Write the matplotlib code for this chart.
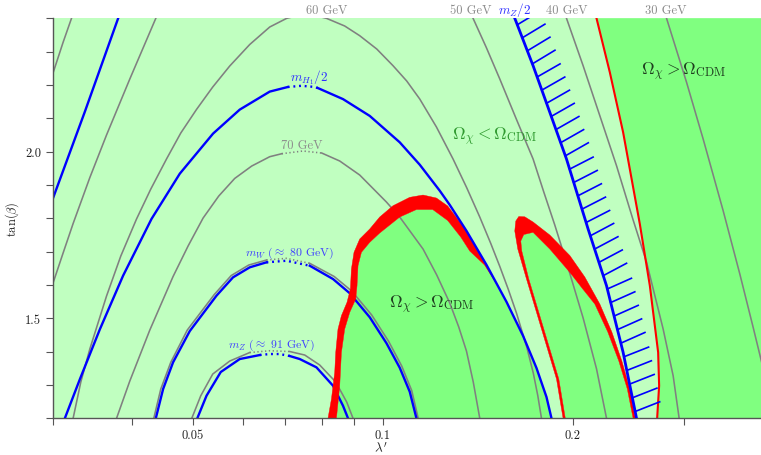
import matplotlib
matplotlib.use("Agg")
import matplotlib.pyplot as plt
from matplotlib import patheffects
from matplotlib.ticker import NullFormatter
import numpy as np

plt.rcParams['font.family'] = ['cmr10', 'DejaVu Serif']
plt.rcParams['mathtext.fontset'] = 'cm'
plt.rcParams['axes.unicode_minus'] = False
plt.rcParams['axes.formatter.use_mathtext'] = True

# ---------------- data (lambda', tan beta) ----------------
lam_G40L = [0.0300, 0.03116, 0.03213]
tb_G40L = [2.2329, 2.3280, 2.4000]

lam_G50L = [0.0300, 0.03116, 0.03232, 0.03435, 0.03651, 0.03974, 0.04370]
tb_G50L = [1.6028, 1.6958, 1.7843, 1.9220, 2.0499, 2.2176, 2.4000]

lam_BZ2L = [0.0300, 0.03372, 0.03809]
tb_BZ2L = [1.8578, 2.1189, 2.4000]

lam_G60 = [0.03232, 0.03324, 0.03435, 0.03651, 0.03846, 0.04073, 0.04291, 0.04544,
           0.04787, 0.05069, 0.05379, 0.05723, 0.06156, 0.06622, 0.07046, 0.07571,
           0.08143, 0.08705, 0.09195, 0.09784, 0.10383, 0.10915, 0.11446, 0.12165,
           0.12925, 0.13588, 0.14248, 0.14831, 0.15328, 0.15810, 0.16291, 0.16914,
           0.17321, 0.17607, 0.17846]
tb_G60 = [1.2000, 1.3088, 1.4078, 1.5668, 1.6868, 1.7978, 1.8878, 1.9779,
          2.0559, 2.1264, 2.1939, 2.2569, 2.3214, 2.3739, 2.4000, 2.4144,
          2.4000, 2.3769, 2.3478, 2.3079, 2.2578, 2.2119, 2.1579, 2.0739,
          1.9779, 1.8914, 1.8038, 1.7246, 1.6556, 1.5869, 1.5155, 1.4135,
          1.3355, 1.2680, 1.2000]

lam_BH = [0.03136, 0.03312, 0.03563, 0.03878, 0.04302, 0.04770, 0.05385, 0.05936,
          0.06622, 0.07072, 0.07434, 0.07756, 0.07890, 0.08651, 0.09537, 0.10640,
          0.11446, 0.12313, 0.12771, 0.13573, 0.14601, 0.15707, 0.16687, 0.17524,
          0.18175, 0.18510]
tb_BH = [1.2000, 1.3169, 1.4669, 1.6277, 1.7981, 1.9340, 2.0541, 2.1261,
         2.1801, 2.1939, 2.1975, 2.1945, 2.1909, 2.1576, 2.1072, 2.0280,
         1.9608, 1.8827, 1.8401, 1.7624, 1.6604, 1.5494, 1.4474, 1.3508,
         1.2638, 1.2000]

lam_G70 = [0.03787, 0.03974, 0.04275, 0.04654, 0.04916, 0.05193, 0.05498, 0.05828,
           0.06201, 0.06622, 0.06919, 0.07477, 0.08005, 0.08548, 0.09195, 0.10136,
           0.10640, 0.11585, 0.12179, 0.12771, 0.13197, 0.13573, 0.13914, 0.14248]
tb_G70 = [1.2000, 1.3115, 1.4645, 1.6253, 1.7168, 1.8008, 1.8668, 1.9196,
          1.9568, 1.9848, 1.9938, 2.0019, 1.9958, 1.9719, 1.9298, 1.8488,
          1.8038, 1.7078, 1.6298, 1.5458, 1.4738, 1.4018, 1.3088, 1.2000]

lam_BW = [0.04370, 0.04488, 0.04654, 0.04947, 0.05452, 0.05792, 0.06156, 0.06543,
          0.07038, 0.07663, 0.08342, 0.08866, 0.09537, 0.10136, 0.10640, 0.11036, 0.11309]
tb_BW = [1.2000, 1.2878, 1.3679, 1.4618, 1.5677, 1.6229, 1.6529, 1.6679,
         1.6727, 1.6577, 1.6178, 1.5752, 1.5032, 1.4255, 1.3517, 1.2797, 1.2000]

lam_GW = [0.04338, 0.04450, 0.04615, 0.04902, 0.05409, 0.05754, 0.06134, 0.06543,
          0.07038, 0.07663, 0.08379, 0.08930, 0.09607, 0.10211, 0.10718, 0.11116, 0.11383]
tb_GW = [1.2000, 1.2878, 1.3679, 1.4648, 1.5713, 1.6283, 1.6598, 1.6748,
         1.6799, 1.6649, 1.6253, 1.5818, 1.5098, 1.4318, 1.3568, 1.2833, 1.2000]

lam_BZ = [0.05084, 0.05258, 0.05538, 0.05936, 0.06385, 0.06622, 0.06869, 0.07124,
          0.07388, 0.07852, 0.08342, 0.08651, 0.08811]
tb_BZ = [1.2000, 1.2677, 1.3388, 1.3778, 1.3898, 1.3928, 1.3928, 1.3868,
         1.3778, 1.3529, 1.2977, 1.2377, 1.2000]

lam_GZ = [0.04983, 0.05149, 0.05379, 0.05723, 0.06156, 0.06622, 0.07124, 0.07524,
          0.07947, 0.08425, 0.08769, 0.08973]
tb_GZ = [1.2000, 1.2677, 1.3328, 1.3718, 1.3973, 1.4027, 1.4003, 1.3898,
         1.3598, 1.3088, 1.2488, 1.2000]

lam_G50R = [0.13904, 0.14590, 0.15328, 0.16279, 0.17308, 0.17997, 0.18734, 0.19551,
            0.20773, 0.21814, 0.22625]
tb_G50R = [2.4000, 2.3127, 2.2179, 2.0979, 1.9779, 1.8788, 1.7798, 1.6679,
           1.5011, 1.3484, 1.2000]

lam_BZ2R = [0.16190, 0.17308, 0.18396, 0.19551, 0.21155, 0.22625, 0.24037, 0.25243]
tb_BZ2R = [2.4000, 2.2578, 2.1180, 1.9779, 1.7678, 1.5977, 1.3979, 1.2000]

lam_G40R = [0.19551, 0.20773, 0.22078, 0.23466, 0.24904, 0.26180, 0.27816, 0.28850, 0.29488]
tb_G40R = [2.4000, 2.2578, 2.1078, 1.9577, 1.7978, 1.6688, 1.4678, 1.3277, 1.2000]

lam_G30R = [0.28163, 0.30296, 0.32187, 0.34625, 0.36802, 0.38631, 0.40463]
tb_G30R = [2.4000, 2.2080, 2.0379, 1.8227, 1.6322, 1.4726, 1.3163]

lam_RR = [0.21814, 0.22899, 0.24037, 0.25548, 0.26499, 0.27313, 0.27412, 0.27214]
tb_RR = [2.4000, 2.2380, 2.0580, 1.7828, 1.5977, 1.3979, 1.2977, 1.2000]

lam_loop_out = [0.19310, 0.18851, 0.18175, 0.17524, 0.16896, 0.16368, 0.16190, 0.16249,
                0.16428, 0.16791, 0.17308, 0.18396, 0.19789, 0.20902, 0.22078, 0.23067,
                0.23924, 0.24633, 0.25132]
tb_loop_out = [1.2000, 1.3178, 1.4177, 1.5179, 1.6178, 1.7078, 1.7618, 1.7918,
               1.8053, 1.8044, 1.7888, 1.7498, 1.6883, 1.6238, 1.5428, 1.4588,
               1.3718, 1.2878, 1.2000]
lam_loop_in = [0.19466, 0.19010, 0.18329, 0.17671, 0.17038, 0.16608, 0.16548, 0.16730,
               0.17308, 0.18396, 0.19789, 0.20750, 0.21679, 0.22732, 0.23663, 0.24409, 0.24931]
tb_loop_in = [1.2000, 1.3178, 1.4177, 1.5179, 1.6178, 1.7018, 1.7318, 1.7513,
              1.7579, 1.7078, 1.6379, 1.5878, 1.5428, 1.4588, 1.3718, 1.2878, 1.2000]

lam_band_out = [0.08191, 0.08294, 0.08394, 0.08425, 0.08495, 0.08601, 0.08779, 0.08888,
                0.08921, 0.09006, 0.09195, 0.09537, 0.09891, 0.10383, 0.11036, 0.11585,
                0.12165, 0.12677, 0.13573, 0.14601, 0.15300]
tb_band_out = [1.2000, 1.2578, 1.3379, 1.3979, 1.4678, 1.5077, 1.5479, 1.5878,
               1.6478, 1.6979, 1.7378, 1.7678, 1.8038, 1.8377, 1.8629, 1.8698,
               1.8608, 1.8368, 1.7624, 1.6604, 1.5900]
lam_band_in = [0.08446, 0.08548, 0.08601, 0.08705, 0.08866, 0.09062, 0.09105, 0.09138,
               0.09252, 0.09537, 0.09891, 0.10640, 0.11309, 0.12002, 0.12677, 0.13294,
               0.13738, 0.14500]
tb_band_in = [1.2000, 1.2977, 1.3979, 1.4678, 1.5179, 1.5578, 1.5977, 1.6577,
              1.6979, 1.7279, 1.7558, 1.8038, 1.8263, 1.8263, 1.7933, 1.7438,
              1.7018, 1.6600]

x_major = [0.05, 0.1, 0.2]
x_major_labels = ['0.05', '0.1', '0.2']
x_minor = [0.03, 0.04, 0.06, 0.07, 0.08, 0.09, 0.3]
y_ticks = [1.2, 1.3, 1.4, 1.5, 1.6, 1.7, 1.8, 1.9, 2.0, 2.1, 2.2, 2.3, 2.4]
y_labels = ['', '', '', '1.5', '', '', '', '', '2.0', '', '', '', '']

top_labels = [('60 GeV', 0.08143), ('50 GeV', 0.13788), ('40 GeV', 0.19573), ('30 GeV', 0.28040)]

# ---------------- style ----------------
LIGHT = '#c0ffc0'
DARK = '#80ff80'
GRAY = '#808080'
BLUE = '#0000ff'
RED = '#ff0000'
XLIM = (0.03, 0.3975)
YLIM = (1.2, 2.4)

fig = plt.figure(figsize=(7.61, 4.56), dpi=100)
ax = fig.add_axes([0.06925, 0.08048, 0.93075, 0.87719])
ax.set_xscale('log')
ax.set_xlim(*XLIM)
ax.set_ylim(*YLIM)
ax.set_facecolor(LIGHT)

# dark (overdense) regions
ax.fill(lam_RR + [0.5, 0.5], tb_RR + [YLIM[0], YLIM[1]], color=DARK, lw=0, zorder=1)
bh_x = np.array(lam_BH)
bh_y = np.array(tb_BH)
sel = bh_x > 0.1455
ax.fill(lam_band_in + list(bh_x[sel]), tb_band_in + list(bh_y[sel]),
        color=DARK, lw=0, zorder=1)
ax.fill(lam_loop_in, tb_loop_in, color=DARK, lw=0, zorder=1)


def arch(lx, ty, color, lw, z, gap=None):
    lx = np.asarray(lx)
    ty = np.asarray(ty)
    if gap is None:
        ax.plot(lx, ty, color=color, lw=lw, zorder=z, solid_joinstyle='round')
        return
    lo, hi = gap
    m1 = lx <= lo
    m2 = lx >= hi
    m3 = (lx >= lo) & (lx <= hi)
    ax.plot(lx[m1], ty[m1], color=color, lw=lw, zorder=z, solid_joinstyle='round')
    ax.plot(lx[m2], ty[m2], color=color, lw=lw, zorder=z, solid_joinstyle='round')
    ax.plot(lx[m3], ty[m3], color=color, lw=lw, zorder=z, ls=(0, (0.8, 1.6)))


GLW = 1.15
BLW = 1.7
arch(lam_G40L, tb_G40L, GRAY, GLW, 2)
arch(lam_G50L, tb_G50L, GRAY, GLW, 2)
arch(lam_G60, tb_G60, GRAY, GLW, 2)
arch(lam_G70, tb_G70, GRAY, GLW, 2, gap=(0.06919, 0.08005))
arch(lam_GW, tb_GW, GRAY, GLW, 2, gap=(0.06543, 0.07663))
arch(lam_GZ, tb_GZ, GRAY, GLW, 2, gap=(0.06156, 0.07124))
arch(lam_G50R, tb_G50R, GRAY, GLW, 2)
arch(lam_G40R, tb_G40R, GRAY, GLW, 2)
arch(lam_G30R, tb_G30R, GRAY, GLW, 2)

arch(lam_BZ2L, tb_BZ2L, BLUE, BLW, 2.2)
arch(lam_BW, tb_BW, BLUE, BLW, 2.2, gap=(0.06543, 0.07663))
arch(lam_BZ, tb_BZ, BLUE, BLW, 2.2, gap=(0.06385, 0.07124))

# red relic-density band
ax.fill(lam_band_out + lam_band_in[::-1], tb_band_out + tb_band_in[::-1],
        color=RED, lw=0.3, ec=RED, zorder=2.5)
ax.fill(lam_loop_out + lam_loop_in[::-1], tb_loop_out + tb_loop_in[::-1],
        color=RED, lw=0.3, ec=RED, zorder=2.5)
ax.plot(lam_RR, tb_RR, color=RED, lw=1.5, zorder=2.5, solid_joinstyle='round')

arch(lam_BH, tb_BH, BLUE, BLW, 3, gap=(0.07072, 0.07890))
ax.plot(lam_BZ2R, tb_BZ2R, color=BLUE, lw=2.0, zorder=3,
        path_effects=[patheffects.withTickedStroke(angle=100, spacing=10.0,
                                                   length=1.9, linewidth=1.2)])

# labels
for txt, xv in top_labels:
    ax.text(xv, 2.425, txt, color='#8c8c8c', fontsize=9, ha='center', va='center', clip_on=False)
ax.text(0.16190, 2.427, r'$m_Z/2$', color='#3030ff', fontsize=9.5, ha='center', va='center', clip_on=False)
ax.text(0.07434, 2.019, '70 GeV', color='#8c8c8c', fontsize=9, ha='center', va='center', zorder=4)
ax.text(0.07635, 2.224, r'$m_{H_1}/2$', color='#3030ff', fontsize=9.5, ha='center', va='center', zorder=4)
ax.text(0.07124, 1.699, r'$m_W$ ($\approx$ 80 GeV)', color='#4040ff', fontsize=8.5, ha='center', va='center', zorder=4)
ax.text(0.06671, 1.423, r'$m_Z$ ($\approx$ 91 GeV)', color='#4040ff', fontsize=8.5, ha='center', va='center', zorder=4)
ax.text(0.15049, 2.047, r'$\Omega_\chi < \Omega_{\rm CDM}$', color='#2f9a2f', fontsize=12.5, ha='center', va='center', zorder=4)
ax.text(0.29998, 2.242, r'$\Omega_\chi > \Omega_{\rm CDM}$', color='#1f3f1f', fontsize=12.5, ha='center', va='center', zorder=4)
ax.text(0.11980, 1.543, r'$\Omega_\chi > \Omega_{\rm CDM}$', color='#1f3f1f', fontsize=12.5, ha='center', va='center', zorder=4)

# axes cosmetics
ax.set_xticks(x_major)
ax.set_xticklabels(x_major_labels)
ax.set_xticks(x_minor, minor=True)
ax.xaxis.set_minor_formatter(NullFormatter())
ax.set_yticks(y_ticks)
ax.set_yticklabels(y_labels)
ax.tick_params(which='both', direction='out', length=5, width=0.8, color='#555555',
               labelsize=9, labelcolor='#222222', pad=3.5)
ax.tick_params(axis='x', which='major', pad=2.5)
for s in ('top', 'right'):
    ax.spines[s].set_visible(False)
for s in ('left', 'bottom'):
    ax.spines[s].set_color('#555555')
    ax.spines[s].set_linewidth(1.0)
ax.set_xlabel(r"$\lambda'$", fontsize=9.5, color='#222222', va='center')
ax.xaxis.set_label_coords(0.4635, -0.0735)
ax.set_ylabel(r'$\tan(\beta)$', fontsize=9, color='#222222', va='center')
ax.yaxis.set_label_coords(-0.057, 0.5)

fig.savefig('out.png', dpi=100)
